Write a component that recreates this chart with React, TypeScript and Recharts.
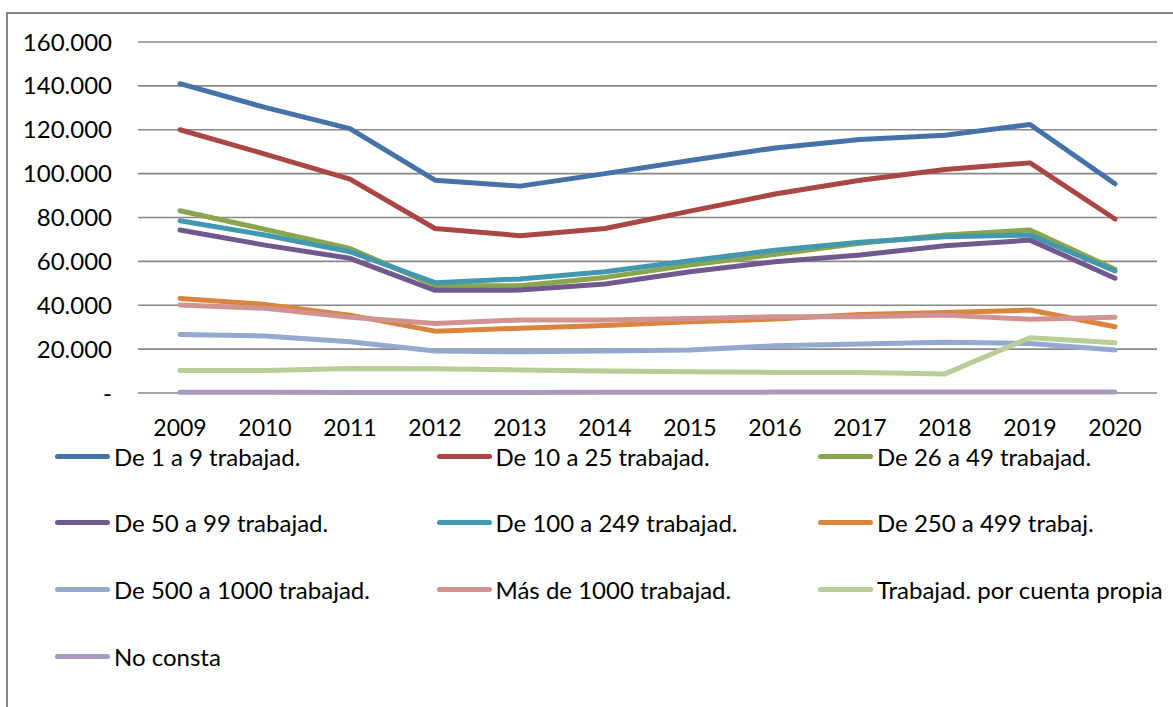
import { LineChart, Line, XAxis, YAxis, CartesianGrid } from "recharts";

const YEARS = ["2009", "2010", "2011", "2012", "2013", "2014", "2015", "2016", "2017", "2018", "2019", "2020"];

const DE_1_9 = [141000, 130200, 120500, 97000, 94300, 100000, 106000, 111700, 115600, 117500, 122400, 95400];
const DE_10_25 = [120000, 108900, 97500, 75000, 71700, 75000, 82900, 90700, 97000, 101900, 104900, 79300];
const DE_26_49 = [83100, 74600, 65900, 49000, 48900, 52700, 58300, 63200, 68200, 72000, 74300, 56400];
const DE_50_99 = [74300, 67400, 61400, 46800, 46900, 49700, 55300, 59800, 62900, 67100, 69700, 52300];
const DE_100_249 = [78500, 72000, 64400, 50300, 52000, 55300, 60300, 65100, 68700, 71200, 72000, 55600];
const DE_250_499 = [43100, 40400, 35500, 28200, 29500, 30800, 32500, 33700, 35800, 36700, 37800, 30200];
const DE_500_1000 = [26700, 26000, 23400, 19100, 18800, 19100, 19600, 21500, 22300, 23100, 22600, 19600];
const MAS_1000 = [40100, 38600, 34500, 31700, 33300, 33300, 34000, 34800, 34800, 35500, 33600, 34500];
const CUENTA_PROPIA = [10200, 10200, 11200, 11000, 10500, 10000, 9700, 9400, 9300, 8700, 25200, 22900];
const NO_CONSTA = [300, 300, 200, 200, 200, 300, 300, 400, 400, 500, 500, 400];

const Y_TICKS = [0, 20000, 40000, 60000, 80000, 100000, 120000, 140000, 160000];

const SERIES = [
  { key: "s1", name: "De 1 a 9 trabajad.", values: DE_1_9, color: "#4572A7" },
  { key: "s2", name: "De 10 a 25 trabajad.", values: DE_10_25, color: "#AA4643" },
  { key: "s3", name: "De 26 a 49 trabajad.", values: DE_26_49, color: "#89A54E" },
  { key: "s4", name: "De 50 a 99 trabajad.", values: DE_50_99, color: "#71588F" },
  { key: "s5", name: "De 100 a 249 trabajad.", values: DE_100_249, color: "#4198AF" },
  { key: "s6", name: "De 250 a 499 trabaj.", values: DE_250_499, color: "#DB843D" },
  { key: "s7", name: "De 500 a 1000 trabajad.", values: DE_500_1000, color: "#93A9CF" },
  { key: "s8", name: "Más de 1000 trabajad.", values: MAS_1000, color: "#D19392" },
  { key: "s9", name: "Trabajad. por cuenta propia", values: CUENTA_PROPIA, color: "#B9CD96" },
  { key: "s10", name: "No consta", values: NO_CONSTA, color: "#A99BBD" },
];

const data = YEARS.map((year, i) => {
  const row: Record<string, number | string> = { year };
  SERIES.forEach((s) => {
    row[s.key] = s.values[i];
  });
  return row;
});

const FONT = "Lato, 'Noto Sans', sans-serif";

function fmt(v: number) {
  if (v === 0) return "-";
  return `${v / 1000}.000`;
}

export default function App() {
  return (
    <div
      style={{
        position: "absolute",
        left: 0,
        top: 0,
        width: 1173,
        height: 707,
        overflow: "hidden",
        background: "#fff",
        fontFamily: FONT,
      }}
    >
      {/* marco del gráfico, recortado a la derecha y abajo */}
      <div
        style={{
          position: "absolute",
          left: 6,
          top: 12,
          width: 1300,
          height: 800,
          border: "2px solid #878787",
          boxSizing: "border-box",
        }}
      />
      <div style={{ position: "absolute", left: 0, top: 0 }}>
        <LineChart
          width={1173}
          height={707}
          data={data}
          margin={{ top: 42, right: 16, left: 0, bottom: 284 }}
        >
          <CartesianGrid stroke="#888888" strokeWidth={1.6} vertical={false} />
          <XAxis
            dataKey="year"
            axisLine={false}
            tickLine={false}
            tickSize={0}
            tickMargin={27}
            height={30}
            padding={{ left: 42, right: 42 }}
            interval={0}
            tick={{ fill: "#000", fontSize: 23, fontFamily: FONT }}
          />
          <YAxis
            width={138}
            domain={[0, 160000]}
            ticks={Y_TICKS}
            axisLine={false}
            tickLine={false}
            tickSize={0}
            tickMargin={26}
            tickFormatter={fmt}
            tick={{ fill: "#000", fontSize: 24, fontFamily: FONT }}
          />
          {SERIES.map((s) => (
            <Line
              key={s.key}
              type="linear"
              dataKey={s.key}
              name={s.name}
              stroke={s.color}
              strokeWidth={5}
              strokeLinecap="round"
              strokeLinejoin="round"
              dot={false}
              activeDot={false}
              isAnimationActive={false}
            />
          ))}
        </LineChart>
      </div>
      {/* leyenda: 3 columnas */}
      {SERIES.map((s, i) => {
        const col = i % 3;
        const row = Math.floor(i / 3);
        return (
          <div
            key={s.key}
            style={{
              position: "absolute",
              left: 55 + col * 381.5,
              top: 456 + row * 66.7 - 15,
              height: 30,
              display: "flex",
              alignItems: "center",
              whiteSpace: "nowrap",
              fontSize: 24,
              color: "#000",
            }}
          >
            <span
              style={{
                display: "inline-block",
                width: 55,
                height: 5,
                borderRadius: 3,
                background: s.color,
                marginRight: 4,
              }}
            />
            <span>{s.name}</span>
          </div>
        );
      })}
    </div>
  );
}
